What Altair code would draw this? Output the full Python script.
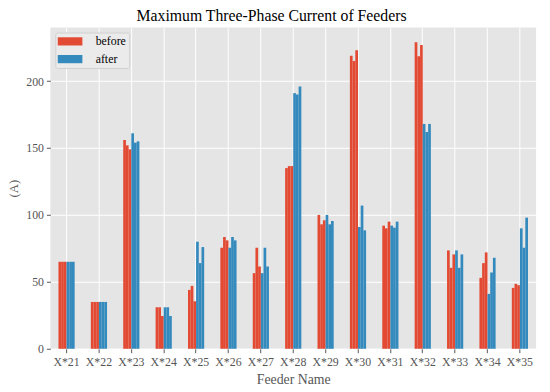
import altair as alt
import pandas as pd

feeders = ["X*21", "X*22", "X*23", "X*24", "X*25", "X*26", "X*27", "X*28",
           "X*29", "X*30", "X*31", "X*32", "X*33", "X*34", "X*35"]
before_a = [65, 35, 156, 31, 44, 75.5, 56.5, 135, 100, 219, 92, 229, 73.5, 53, 45.5]
before_b = [65, 35, 152, 31, 47, 83.5, 75.5, 136.5, 93, 215, 90, 218.5, 60.5, 64, 48.5]
before_c = [65, 35, 149, 24.5, 35.5, 81, 61.5, 136.5, 96, 223, 95, 227, 70.5, 72, 47.5]
after_a = [65, 35, 161, 31, 80, 75.5, 56.5, 191, 100, 91, 92, 168, 73.5, 41, 90]
after_b = [65, 35, 154, 31, 64, 83.5, 75.5, 190, 93, 107, 90.5, 162, 60.5, 57, 75.5]
after_c = [65, 35, 155, 24.5, 76, 81, 61.5, 196, 95.5, 88.5, 95, 168, 70.5, 68, 98]

series = {
    ("before", "1"): before_a, ("before", "2"): before_b, ("before", "3"): before_c,
    ("after", "1"): after_a, ("after", "2"): after_b, ("after", "3"): after_c,
}
rows = []
for (grp, ph), vals in series.items():
    for f, v in zip(feeders, vals):
        rows.append({"feeder": f, "group": grp, "slot": grp + ph, "value": v})
df = pd.DataFrame(rows)
slot_order = ["before1", "before2", "before3", "after1", "after2", "after3"]

FONT = "Liberation Serif"

chart = alt.Chart(df).mark_bar().encode(
    x=alt.X("feeder:N", sort=feeders, title="Feeder Name",
            scale=alt.Scale(paddingInner=0.5, paddingOuter=0.25),
            axis=alt.Axis(labelAngle=0, bandPosition=0.5, grid=True, domain=False,
                          tickColor="#555555", tickSize=4, labelColor="#555555",
                          labelFontSize=12, labelPadding=4, titleFontSize=14,
                          titleColor="#555555", titlePadding=5, titleFontWeight="normal")),
    xOffset=alt.XOffset("slot:N", sort=slot_order,
                        scale=alt.Scale(paddingInner=0, paddingOuter=0)),
    y=alt.Y("value:Q", title="(A)",
            scale=alt.Scale(domain=[0, 240], nice=False),
            axis=alt.Axis(values=[0, 50, 100, 150, 200], domain=False,
                          tickColor="#555555", tickSize=4, labelColor="#555555",
                          labelFontSize=12, labelPadding=3, titleFontSize=13,
                          titleColor="#555555", titlePadding=5, titleFontWeight="normal")),
    color=alt.Color("group:N", sort=["before", "after"],
                    scale=alt.Scale(domain=["before", "after"], range=["#E24A33", "#348ABD"]),
                    legend=alt.Legend(title=None, orient="none", legendX=5, legendY=5,
                                      symbolType="M-3.125,-1.04L3.125,-1.04L3.125,1.04L-3.125,1.04Z",
                                      symbolSize=64, symbolStrokeWidth=0, symbolOffset=6,
                                      labelFontSize=12, labelColor="#000000",
                                      labelOffset=20, padding=3, rowPadding=6,
                                      fillColor="#EBEBEB", strokeColor="#D0D0D0",
                                      cornerRadius=2)),
).properties(
    width=493, height=326,
    title=alt.TitleParams("Maximum Three-Phase Current of Feeders", fontSize=16,
                          font=FONT, fontWeight="normal", color="#000000", offset=4,
                          dx=-22),
    autosize=alt.AutoSizeParams(type="none"),
    padding={"left": 43, "top": 17, "right": 6, "bottom": 41},
).configure(font=FONT).configure_view(
    fill="#E5E5E5", stroke=None
).configure_axis(
    gridColor="#FFFFFF", gridWidth=1, labelFont=FONT, titleFont=FONT
).configure_legend(labelFont=FONT)

chart.save("out.html", embed_options={"renderer": "svg", "actions": False})
